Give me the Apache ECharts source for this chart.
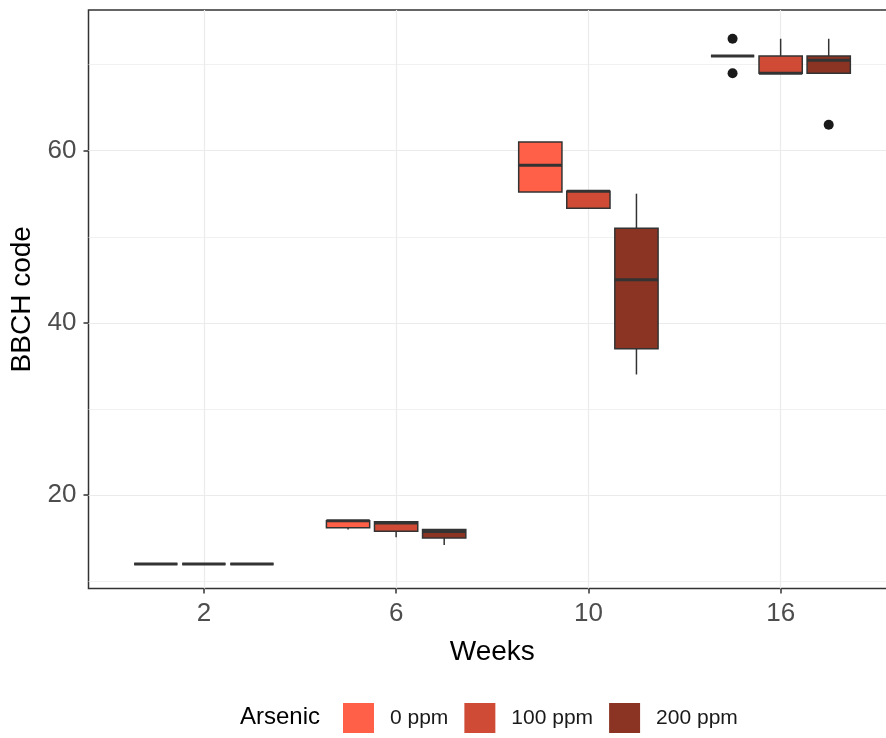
<!DOCTYPE html>
<html>
<head>
<meta charset="utf-8">
<script src="https://cdn.jsdelivr.net/npm/echarts@6/dist/echarts.min.js"></script>
<style>html,body{margin:0;padding:0;background:#fff;}#c{width:886px;height:738px;}</style>
</head>
<body>
<div id="c"></div>
<script>
// ---- data ----
const weeks = ['2', '6', '10', '16'];
const arsenic = ['0 ppm', '100 ppm', '200 ppm'];
const colors = ['#FF6047', '#D04B35', '#8B3424'];
// [min, q1, median, q3, max] per week
const box0 = [[12, 12, 12, 12, 12], [16, 16.2, 17, 17, 17], [55.2, 55.2, 58.3, 61, 61], [71, 71, 71, 71, 71]];
const box100 = [[12, 12, 12, 12, 12], [15.1, 15.8, 16.75, 16.9, 16.9], [53.3, 53.3, 55.3, 55.3, 55.3], [69, 69, 69, 71, 73]];
const box200 = [[12, 12, 12, 12, 12], [14.2, 15, 15.75, 16, 16], [34, 37, 45, 51, 55], [69, 69, 70.5, 71, 73]];
// outliers: [weekIndex, arsenicIndex, value]
const outliers = [[3, 0, 73], [3, 0, 69], [3, 2, 63]];
const yTicks = [20, 40, 60];
const yMinor = [10, 30, 50, 70];

const FONT = 'Liberation Sans, Arial, sans-serif';
const dodge = 0.25, boxW = 0.225;
const boxes = [box0, box100, box200];

function renderBox(params, api) {
  const k = params.seriesIndex;
  const xc = api.value(0) + 1 + (k - 1) * dodge;
  const mn = api.value(1), q1 = api.value(2), md = api.value(3), q3 = api.value(4), mx = api.value(5);
  const half = api.size([boxW, 0])[0] / 2;
  const c = api.coord([xc, 0])[0];
  const y = v => api.coord([xc, v])[1];
  const stroke = '#333333';
  const children = [];
  if (mx > q3) children.push({type: 'line', shape: {x1: c, y1: y(q3), x2: c, y2: y(mx)}, style: {stroke: stroke, lineWidth: 1.5}});
  if (mn < q1) children.push({type: 'line', shape: {x1: c, y1: y(q1), x2: c, y2: y(mn)}, style: {stroke: stroke, lineWidth: 1.5}});
  children.push({type: 'rect', shape: {x: c - half, y: y(q3), width: 2 * half, height: y(q1) - y(q3)},
    style: {fill: api.visual('color'), stroke: stroke, lineWidth: 1.5}});
  children.push({type: 'line', shape: {x1: c - half, y1: y(md), x2: c + half, y2: y(md)}, style: {stroke: stroke, lineWidth: 3}});
  return {type: 'group', children: children};
}

const series = arsenic.map((name, k) => ({
  name: name,
  type: 'custom',
  renderItem: renderBox,
  itemStyle: {color: colors[k]},
  encode: {x: 0, y: [1, 2, 3, 4, 5]},
  data: boxes[k].map((b, i) => [i].concat(b)),
  z: 3
}));

series.push({
  type: 'scatter',
  symbolSize: 10,
  itemStyle: {color: '#1a1a1a', opacity: 1},
  data: outliers.map(o => [o[0] + 1 + (o[1] - 1) * dodge, o[2]]),
  z: 4,
  silent: true
});

const gl = (v, axis, w) => ({[axis]: v, lineStyle: {color: '#EBEBEB', width: w, type: 'solid'}});
series.push({
  type: 'scatter',
  data: [],
  silent: true,
  z: 1,
  markLine: {
    silent: true, symbol: 'none', label: {show: false}, animation: false, z: 1,
    data: yTicks.map(v => gl(v, 'yAxis', 1.2))
      .concat(yMinor.map(v => gl(v, 'yAxis', 0.7)))
      .concat(weeks.map((w, i) => gl(i + 1, 'xAxis', 1.2)))
  }
});

const chart = echarts.init(document.getElementById('c'), null, {renderer: 'canvas'});
chart.setOption({
  animation: false,
  backgroundColor: '#ffffff',
  textStyle: {fontFamily: FONT},
  grid: {left: 88.5, top: 10, right: -10, bottom: 149.5, outerBoundsMode: 'none', containLabel: false,
    show: true, borderColor: '#333333', borderWidth: 1.5, backgroundColor: 'transparent'},
  xAxis: {
    type: 'value', min: 0.4, max: 4.6,
    name: 'Weeks', nameLocation: 'middle', nameGap: 50,
    nameTextStyle: {fontSize: 28, color: '#000', fontFamily: FONT},
    axisLine: {show: false},
    axisTick: {show: true, customValues: [1, 2, 3, 4], length: 5, lineStyle: {color: '#333', width: 1.5}},
    axisLabel: {customValues: [1, 2, 3, 4], formatter: v => weeks[Math.round(v) - 1], fontSize: 26, color: '#4D4D4D', margin: 12, fontFamily: FONT},
    splitLine: {show: false}
  },
  yAxis: {
    type: 'value', min: 9.14, max: 76.34,
    name: 'BBCH code', nameLocation: 'middle', nameGap: 49, nameRotate: 90,
    nameTextStyle: {fontSize: 28, color: '#000', fontFamily: FONT},
    axisLine: {show: false},
    axisTick: {show: true, customValues: yTicks, length: 5, lineStyle: {color: '#333', width: 1.5}},
    axisLabel: {customValues: yTicks, fontSize: 26, color: '#4D4D4D', margin: 12, fontFamily: FONT},
    splitLine: {show: false}
  },
  legend: {
    data: arsenic, left: 343, top: 703, orient: 'horizontal', padding: 0,
    icon: 'rect', itemWidth: 31, itemHeight: 30, itemGap: 16,
    itemStyle: {borderWidth: 0},
    textStyle: {fontSize: 21, color: '#1a1a1a', fontFamily: FONT, padding: [0, 0, 0, 11]}
  },
  graphic: [{type: 'text', left: 240, top: 705, style: {text: 'Arsenic', fontSize: 24, fill: '#000', fontFamily: FONT}}],
  series: series
});
</script>
</body>
</html>
